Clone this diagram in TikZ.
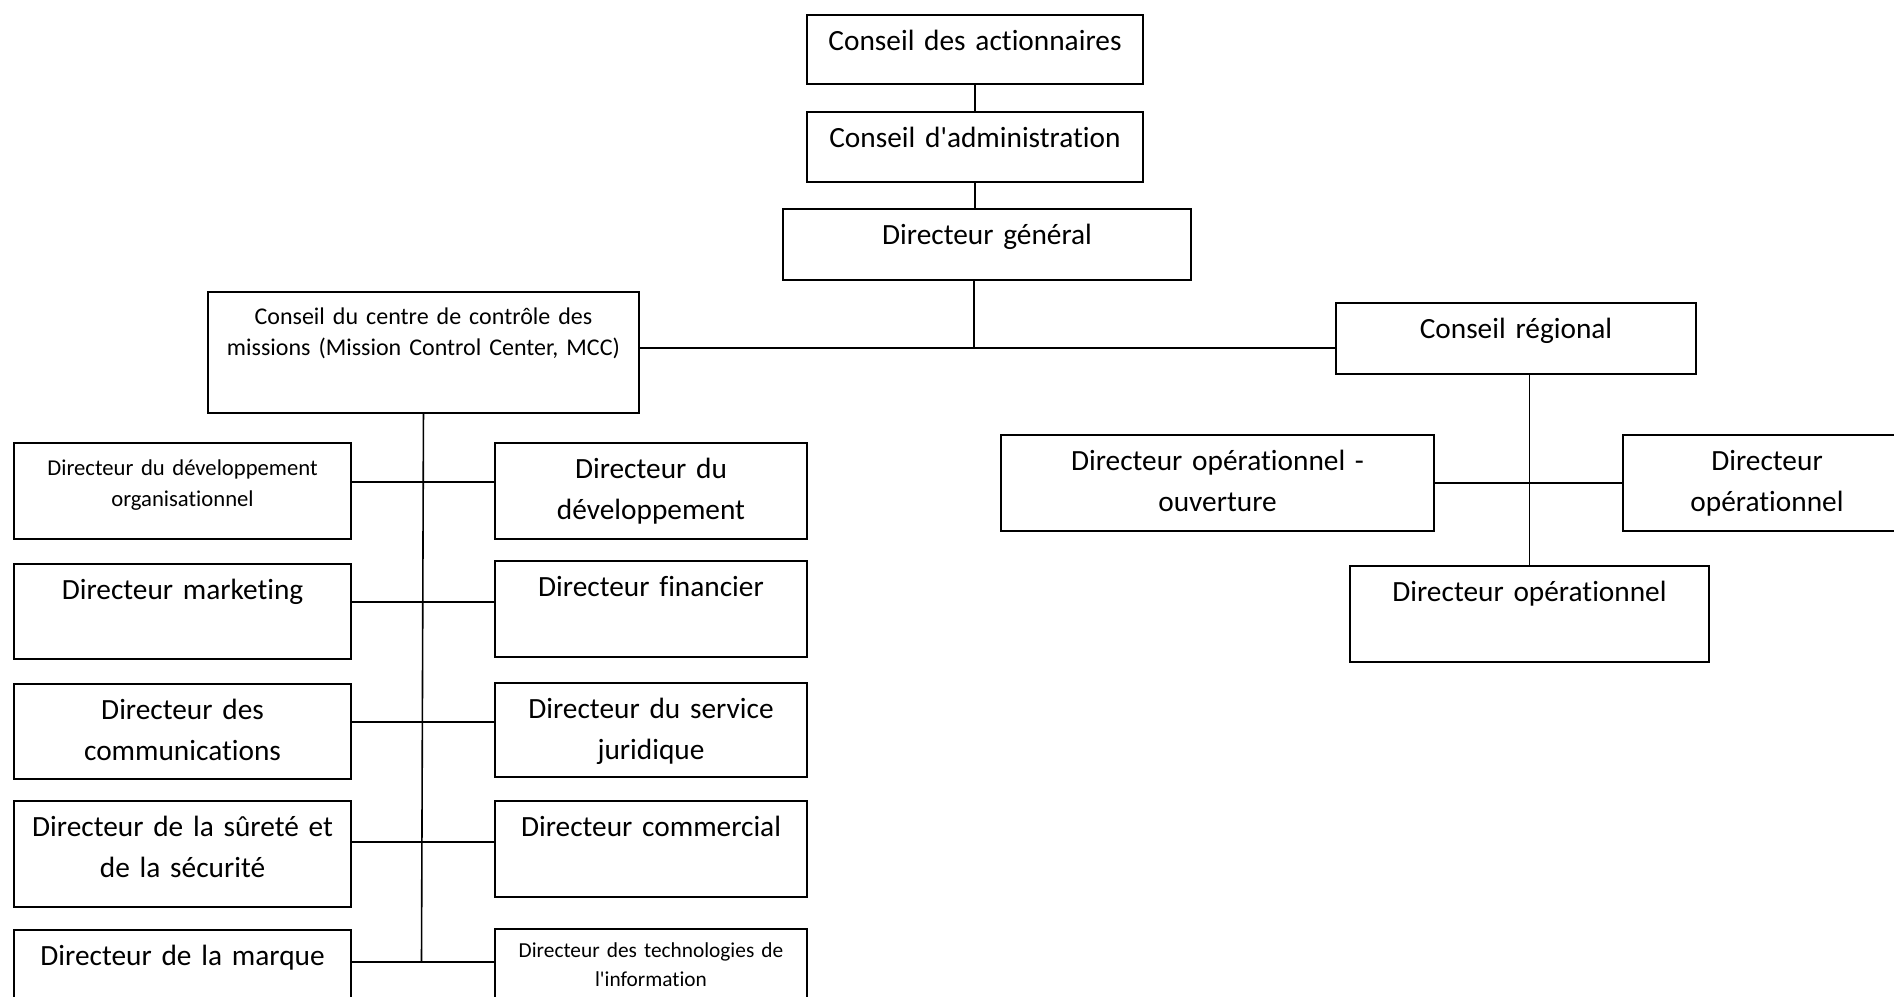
\documentclass[tikz,border=0pt]{standalone}
\usepackage{fontspec}
\setmainfont{Carlito}[Ligatures={NoCommon}]
\tikzset{
  orgbox/.style 2 args={draw, line width=0.75pt, inner sep=0pt, anchor=north west,
    align=center, text width=#1, text depth=#2},
  big/.style={font=\fontsize{11}{15.4}\selectfont, text height=13.3pt},
  small/.style={font=\fontsize{9}{11.6}\selectfont, text height=12.3pt},
  tiny/.style={font=\fontsize{8}{10.9}\selectfont, text height=10.8pt},
  link/.style={line width=0.6pt}
}
\begin{document}
\begin{tikzpicture}[x=0.375pt,y=-0.375pt]
    \useasboundingbox (0,0) rectangle (1894,997);
    % top of the chart
    \node [orgbox={126pt}{12.6pt},big] (ca) at (806,14) {Conseil des actionnaires};
    \node [orgbox={126pt}{12.95pt},big] (cadm) at (806,111) {Conseil d\textquotesingle administration};
    \node [orgbox={153pt}{13.3pt},big] (dg) at (782,208) {Directeur général};
    \node [orgbox={161.6pt}{33.1pt},small] (mcc) at (207,291) {Conseil du centre de contrôle des\\missions (Mission Control Center, MCC)};
    \node [orgbox={135pt}{13.3pt},big] (cr) at (1335,302) {Conseil régional};
    \coordinate (bus) at (974,348);
    \draw [link] (ca) -- (cadm);
    \draw [link] (cadm.south) -- (cadm.south |- dg.north);
    \draw [link] (dg.south -| bus) -- (bus);
    \draw [link] (mcc.east |- bus) -- (cr.west |- bus);
    % regional side
    \node [orgbox={162.4pt}{22.7pt},big] (ouv) at (1000,434) {Directeur opérationnel -\\ouverture};
    \node [orgbox={108pt}{22.7pt},big] (opr) at (1622,434) {Directeur\\opérationnel};
    \node [orgbox={134.6pt}{22.7pt},big] (opb) at (1349,565) {Directeur opérationnel};
    \draw [link] (cr.south -| opb.north) -- (opb.north);
    \draw [link] (ouv.east) -- (ouv.east -| opr.west);
    % mission control side
    \node [orgbox={126.4pt}{23.8pt},font=\fontsize{8.5}{11.6}\selectfont,text height=12.2pt] (l1) at (13,442) {Directeur du développement\\organisationnel};
    \node [orgbox={117pt}{22.7pt},big] (r1) at (494,442) {Directeur du\\développement};
    \node [orgbox={126.4pt}{22.3pt},big] (l2) at (13,563) {Directeur marketing};
    \node [orgbox={117pt}{22.7pt},big] (r2) at (494,560) {Directeur financier};
    \node [orgbox={126.4pt}{22.3pt},big] (l3) at (13,683) {Directeur des\\communications};
    \node [orgbox={117pt}{21.95pt},big] (r3) at (494,682) {Directeur du service\\juridique};
    \node [orgbox={126.4pt}{26.45pt},big] (l4) at (13,800) {Directeur de la sûreté et\\de la sécurité};
    \node [orgbox={117pt}{22.7pt},big] (r4) at (494,800) {Directeur commercial};
    \node [orgbox={126.4pt}{22.7pt},big] (l5) at (13,929) {Directeur de la marque};
    \node [orgbox={117pt}{25.2pt},tiny] (r5) at (494,928) {Directeur des technologies de\\l\textquotesingle information};
    \coordinate (s1) at (421.5,482);
    \coordinate (s2) at (421.5,602);
    \coordinate (s3) at (421.5,722);
    \coordinate (s4) at (421.5,842);
    \coordinate (s5) at (421.5,962);
    \draw [link] (mcc.south) -- (s5);
    \foreach \i in {1,...,5}
        \draw [link] (l\i.east |- s\i) -- (r\i.west |- s\i);
\end{tikzpicture}
\end{document}
